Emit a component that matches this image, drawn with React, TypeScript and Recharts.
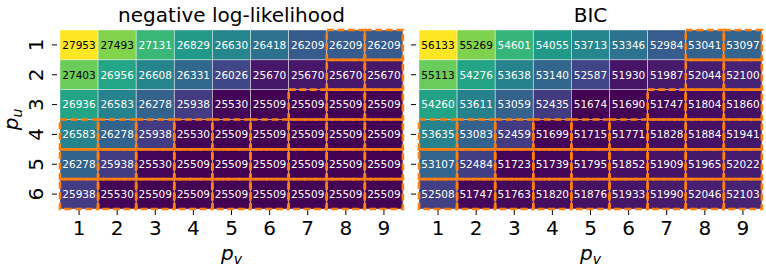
import { BarChart, Bar, XAxis, YAxis } from "recharts";

// p_v columns, p_u rows
const pvValues = [1, 2, 3, 4, 5, 6, 7, 8, 9];
const puValues = [1, 2, 3, 4, 5, 6];

// negative log-likelihood, one array per p_u row
const nllRow1 = [27953, 27493, 27131, 26829, 26630, 26418, 26209, 26209, 26209];
const nllRow2 = [27403, 26956, 26608, 26331, 26026, 25670, 25670, 25670, 25670];
const nllRow3 = [26936, 26583, 26278, 25938, 25530, 25509, 25509, 25509, 25509];
const nllRow4 = [26583, 26278, 25938, 25530, 25509, 25509, 25509, 25509, 25509];
const nllRow5 = [26278, 25938, 25530, 25509, 25509, 25509, 25509, 25509, 25509];
const nllRow6 = [25938, 25530, 25509, 25509, 25509, 25509, 25509, 25509, 25509];

// BIC
const bicRow1 = [56133, 55269, 54601, 54055, 53713, 53346, 52984, 53041, 53097];
const bicRow2 = [55113, 54276, 53638, 53140, 52587, 51930, 51987, 52044, 52100];
const bicRow3 = [54260, 53611, 53059, 52435, 51674, 51690, 51747, 51804, 51860];
const bicRow4 = [53635, 53083, 52459, 51699, 51715, 51771, 51828, 51884, 51941];
const bicRow5 = [53107, 52484, 51723, 51739, 51795, 51852, 51909, 51965, 52022];
const bicRow6 = [52508, 51747, 51763, 51820, 51876, 51933, 51990, 52046, 52103];

// first p_v with a dashed orange box, per p_u row
const boxFrom = [8, 8, 7, 1, 1, 1];

const nllRows = [nllRow1, nllRow2, nllRow3, nllRow4, nllRow5, nllRow6];
const bicRows = [bicRow1, bicRow2, bicRow3, bicRow4, bicRow5, bicRow6];

const FONT = "DejaVu Sans";
const CHART_W = 410;
const CHART_H = 271;
const Y_AXIS_W = 60;
const X_AXIS_H = 62;
const MARGIN = { top: 30, right: 7, bottom: 0, left: 0 };
const PLOT_LEFT = MARGIN.left + Y_AXIS_W;
const PLOT_RIGHT = CHART_W - MARGIN.right;
const PLOT_TOP = MARGIN.top;
const PLOT_BOTTOM = CHART_H - X_AXIS_H;
const RIGHT_PANEL_X = 359;

const VIRIDIS = [
  "#440154", "#482475", "#414487", "#355f8d", "#2a788e", "#21918c",
  "#22a884", "#44bf70", "#7ad151", "#bddf26", "#fde725",
];

function hexToRgb(h: string) {
  return [1, 3, 5].map((i) => parseInt(h.slice(i, i + 2), 16));
}

function viridis(t: number) {
  const s = Math.max(0, Math.min(1, t)) * 10;
  const i = Math.min(9, Math.floor(s));
  const f = s - i;
  const a = hexToRgb(VIRIDIS[i]);
  const b = hexToRgb(VIRIDIS[i + 1]);
  const c = a.map((v, k) => Math.round(v + (b[k] - v) * f));
  return `rgb(${c[0]},${c[1]},${c[2]})`;
}

function buildData(rows: number[][]) {
  return pvValues.map((pv, c) => {
    const d: Record<string, number> = { pv };
    puValues.forEach((pu, r) => {
      d[`r${pu}`] = 1;
      d[`v${pu}`] = rows[r][c];
    });
    return d;
  });
}

const XTick = (props: any) => {
  const { x, payload } = props;
  return (
    <g>
      <line x1={x} x2={x} y1={PLOT_BOTTOM + 1} y2={PLOT_BOTTOM + 6} stroke="#000" strokeWidth={1} />
      <text x={x} y={PLOT_BOTTOM + 26} textAnchor="middle" fontSize={20} fontFamily={FONT} fill="#000">
        {payload.value}
      </text>
    </g>
  );
};

const YTick = (props: any) => {
  const { y, payload, showLabel } = props;
  const tx = PLOT_LEFT - 17;
  return (
    <g>
      <line x1={PLOT_LEFT - 8} x2={PLOT_LEFT - 3} y1={y} y2={y} stroke="#000" strokeWidth={1} />
      {showLabel && (
        <text
          x={tx}
          y={y}
          transform={`rotate(-90, ${tx}, ${y})`}
          textAnchor="middle"
          fontSize={20}
          fontFamily={FONT}
          fill="#000"
        >
          {payload.value + 0.5}
        </text>
      )}
    </g>
  );
};

function Panel({ rows, overlay, showLabels }: { rows: number[][]; overlay: boolean; showLabels: boolean }) {
  const flat = rows.flat();
  const lo = Math.min(...flat);
  const hi = Math.max(...flat);
  const data = buildData(rows);

  return (
    <BarChart width={CHART_W} height={CHART_H} data={data} margin={MARGIN} barCategoryGap={0}>
      <XAxis
        dataKey="pv"
        height={X_AXIS_H}
        axisLine={false}
        tickLine={false}
        interval={0}
        tick={overlay ? false : (p: any) => <XTick {...p} />}
      />
      <YAxis
        type="number"
        domain={[0, 6]}
        reversed
        width={Y_AXIS_W}
        ticks={[0.5, 1.5, 2.5, 3.5, 4.5, 5.5]}
        axisLine={false}
        tickLine={false}
        tick={overlay ? false : (p: any) => <YTick {...p} showLabel={showLabels} />}
      />
      {puValues.map((pu, r) => (
        <Bar
          key={pu}
          dataKey={`r${pu}`}
          stackId="s"
          isAnimationActive={false}
          shape={(p: any) => {
            const { payload, index } = p;
            // reversed axis gives negative heights; normalise the box
            const x = Math.min(p.x, p.x + p.width);
            const y = Math.min(p.y, p.y + p.height);
            const width = Math.abs(p.width);
            const height = Math.abs(p.height);
            if (overlay) {
              if (index + 1 < boxFrom[r]) return <g />;
              return (
                <rect
                  x={x}
                  y={y}
                  width={width}
                  height={height}
                  fill="none"
                  stroke="#ff7f0e"
                  strokeWidth={2.6}
                  strokeDasharray="7 3.5"
                />
              );
            }
            const v = payload[`v${pu}`];
            const t = (v - lo) / (hi - lo);
            return (
              <g>
                <rect
                  x={x}
                  y={y}
                  width={width}
                  height={height}
                  fill={viridis(t)}
                  stroke="rgba(255,255,255,0.55)"
                  strokeWidth={0.7}
                />
                <text
                  x={x + width / 2}
                  y={y + height / 2}
                  dy="0.36em"
                  textAnchor="middle"
                  fontSize={10.5}
                  fontFamily={FONT}
                  fill={t > 0.7 ? "#000" : "#fff"}
                >
                  {v}
                </text>
              </g>
            );
          }}
        />
      ))}
    </BarChart>
  );
}

function AxisTexts({ offset, title, showYLabel }: { offset: number; title: string; showYLabel: boolean }) {
  const cx = offset + (PLOT_LEFT + PLOT_RIGHT) / 2;
  const cy = (PLOT_TOP + PLOT_BOTTOM) / 2;
  return (
    <g fontFamily={FONT} fill="#000">
      <text x={cx} y={22} textAnchor="middle" fontSize={20}>
        {title}
      </text>
      <text x={cx} y={260} textAnchor="middle" fontSize={20}>
        <tspan fontStyle="italic">p</tspan>
        <tspan fontStyle="italic" fontSize={14} dy={4}>v</tspan>
      </text>
      {showYLabel && (
        <text x={18} y={cy} transform={`rotate(-90, 18, ${cy})`} textAnchor="middle" fontSize={20}>
          <tspan fontStyle="italic">p</tspan>
          <tspan fontStyle="italic" fontSize={14} dy={4}>u</tspan>
        </text>
      )}
    </g>
  );
}

export default function App() {
  return (
    <div style={{ position: "absolute", left: 0, top: 0, width: 766, height: 271, background: "#fff" }}>
      <div style={{ position: "absolute", left: 0, top: 0 }}>
        <Panel rows={nllRows} overlay={false} showLabels />
      </div>
      <div style={{ position: "absolute", left: RIGHT_PANEL_X, top: 0 }}>
        <Panel rows={bicRows} overlay={false} showLabels={false} />
      </div>
      <div style={{ position: "absolute", left: 0, top: 0 }}>
        <Panel rows={nllRows} overlay showLabels={false} />
      </div>
      <div style={{ position: "absolute", left: RIGHT_PANEL_X, top: 0 }}>
        <Panel rows={bicRows} overlay showLabels={false} />
      </div>
      <svg
        width={766}
        height={271}
        style={{ position: "absolute", left: 0, top: 0, pointerEvents: "none" }}
      >
        <AxisTexts offset={0} title="negative log-likelihood" showYLabel />
        <AxisTexts offset={RIGHT_PANEL_X} title="BIC" showYLabel={false} />
      </svg>
    </div>
  );
}
